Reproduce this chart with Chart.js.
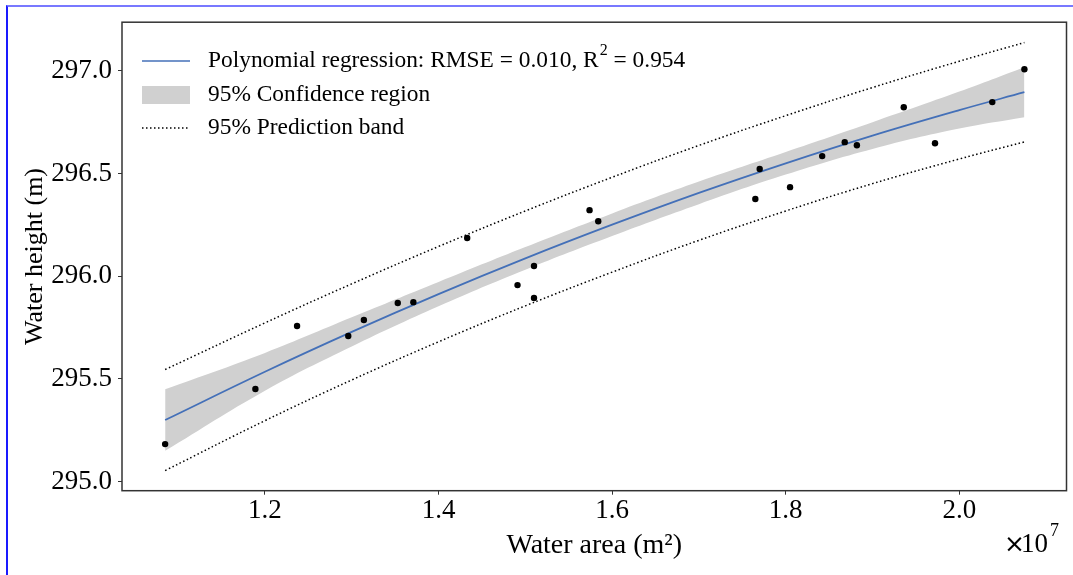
<!DOCTYPE html>
<html>
<head>
<meta charset="utf-8">
<script src="https://cdn.jsdelivr.net/npm/chart.js@4.4.1/dist/chart.umd.min.js"></script>
<style>
  html, body { margin: 0; padding: 0; background: #fff; }
  #wrap { position: relative; width: 1073px; height: 575px; overflow: hidden; }
  #frame { position: absolute; left: 6px; top: 5px; right: -4px; bottom: -4px;
           border-left: 2px solid #1a1aff; border-top: 2px solid #7878ff; pointer-events: none; }
</style>
</head>
<body>
<div id="wrap">
  <canvas id="chart" width="1073" height="575"></canvas>
  <div id="frame"></div>
</div>
<script>
// observations: water area (x 1e7 m2) and water height (m)
const areaObs = [1.085, 1.189, 1.237, 1.296, 1.314, 1.353, 1.371, 1.433, 1.491, 1.510, 1.510, 1.574,
                 1.584, 1.765, 1.770, 1.805, 1.842, 1.868, 1.882, 1.936, 1.972, 2.038, 2.075];
const heightObs = [295.183, 295.451, 295.758, 295.709, 295.787, 295.870, 295.874, 296.186, 295.957,
                   296.050, 295.894, 296.322, 296.268, 296.376, 296.522, 296.434, 296.585, 296.653,
                   296.638, 296.823, 296.648, 296.848, 297.008];

// fitted curve and bands
const fitArea   = [1.085, 1.2, 1.3, 1.4, 1.5, 1.6, 1.7, 1.8, 1.9, 2.0, 2.075];
const fitHeight = [295.300, 295.535, 295.729, 295.913, 296.087, 296.251, 296.406, 296.550, 296.685, 296.809, 296.896];
const ciHigh    = [295.450, 295.627, 295.800, 295.972, 296.142, 296.306, 296.461, 296.605, 296.750, 296.899, 297.018];
const ciLow     = [295.150, 295.443, 295.658, 295.854, 296.032, 296.196, 296.351, 296.495, 296.620, 296.719, 296.774];
const piHigh    = [295.546, 295.773, 295.963, 296.145, 296.318, 296.482, 296.637, 296.782, 296.919, 297.047, 297.138];
const piLow     = [295.054, 295.297, 295.495, 295.681, 295.856, 296.020, 296.175, 296.318, 296.451, 296.571, 296.654];

const xTicks = [1.2, 1.4, 1.6, 1.8, 2.0];
const yTicks = [295.0, 295.5, 296.0, 296.5, 297.0];

const legendLabels = ["Polynomial regression: RMSE = 0.010, R", "95% Confidence region", "95% Prediction band"];
const r2Text = " = 0.954";

const SERIF = '"Liberation Serif", "Times New Roman", serif';
const LINE_BLUE = "#4470b8";
const BAND_GRAY = "#d0d0d0";

const pts = (xs, ys) => xs.map((x, i) => ({ x: x, y: ys[i] }));

// box around the plot + legend + x10^7 offset text
const decorPlugin = {
    id: "decor",
    afterDraw(chart) {
        const { ctx, chartArea: a } = chart;
        ctx.save();
        ctx.strokeStyle = "#333";
        ctx.lineWidth = 1.5;
        ctx.strokeRect(a.left, a.top, a.right - a.left, a.bottom - a.top);

        // legend
        const rows = [61, 95, 128];
        ctx.lineWidth = 1.5;
        ctx.strokeStyle = LINE_BLUE;
        ctx.beginPath(); ctx.moveTo(142, rows[0]); ctx.lineTo(190, rows[0]); ctx.stroke();
        ctx.fillStyle = BAND_GRAY;
        ctx.fillRect(142, rows[1] - 9, 48, 18);
        ctx.strokeStyle = "#000";
        ctx.setLineDash([1.5, 2.5]);
        ctx.beginPath(); ctx.moveTo(142, rows[2]); ctx.lineTo(190, rows[2]); ctx.stroke();
        ctx.setLineDash([]);

        ctx.fillStyle = "#000";
        ctx.textBaseline = "middle";
        ctx.textAlign = "left";
        ctx.font = "23.4px " + SERIF;
        legendLabels.forEach((t, i) => ctx.fillText(t, 208, rows[i]));
        let w = ctx.measureText(legendLabels[0]).width;
        ctx.font = "16px " + SERIF;
        ctx.fillText("2", 208 + w + 1, rows[0] - 10);
        const w2 = ctx.measureText("2").width;
        ctx.font = "23.4px " + SERIF;
        ctx.fillText(r2Text, 208 + w + w2 + 1, rows[0]);

        // x10^7
        ctx.font = "25px DejaVu Sans";
        ctx.textBaseline = "alphabetic";
        ctx.fillText("\u00d7", 1004, 552);
        ctx.font = "27px " + SERIF;
        ctx.fillText("10", 1021, 552);
        ctx.font = "18px " + SERIF;
        ctx.fillText("7", 1050, 536);
        ctx.restore();
    }
};

new Chart(document.getElementById("chart"), {
    type: "line",
    data: {
        datasets: [
            { data: pts(fitArea, ciLow), borderWidth: 0, pointRadius: 0, fill: false, tension: 0.4, order: 4 },
            { data: pts(fitArea, ciHigh), borderWidth: 0, pointRadius: 0, fill: "-1",
              backgroundColor: BAND_GRAY, tension: 0.4, order: 3 },
            { data: pts(fitArea, piHigh), borderColor: "#000", borderWidth: 1.5, borderDash: [1.5, 2.5],
              pointRadius: 0, fill: false, tension: 0.4, order: 2 },
            { data: pts(fitArea, piLow), borderColor: "#000", borderWidth: 1.5, borderDash: [1.5, 2.5],
              pointRadius: 0, fill: false, tension: 0.4, order: 2 },
            { data: pts(fitArea, fitHeight), borderColor: LINE_BLUE, borderWidth: 1.8,
              pointRadius: 0, fill: false, tension: 0.4, order: 1 },
            { data: pts(areaObs, heightObs), showLine: false, pointRadius: 3.2, pointHoverRadius: 3.2,
              pointBackgroundColor: "#000", pointBorderWidth: 0, fill: false, order: 0 }
        ]
    },
    options: {
        responsive: false,
        animation: false,
        devicePixelRatio: 1,
        layout: { padding: { left: 0, right: 6.5, top: 22, bottom: 0 } },
        plugins: { legend: { display: false }, tooltip: { enabled: false } },
        scales: {
            x: {
                type: "linear",
                min: 1.0353, max: 2.1235,
                afterBuildTicks: s => { s.ticks = xTicks.map(v => ({ value: v })); },
                afterFit: s => { s.height = 84.3; },
                grid: { drawOnChartArea: false, drawTicks: true, tickLength: 4, tickColor: "#333" },
                border: { display: false },
                ticks: { color: "#000", padding: 0, maxRotation: 0, font: { family: SERIF, size: 27 },
                         callback: v => v.toFixed(1) },
                title: { display: true, text: "Water area (m\u00b2)", color: "#000",
                         font: { family: SERIF, size: 28 }, padding: { top: 0, bottom: 13 } }
            },
            y: {
                min: 294.956, max: 297.237,
                afterBuildTicks: s => { s.ticks = yTicks.map(v => ({ value: v })); },
                afterFit: s => { s.width = 122; },
                grid: { drawOnChartArea: false, drawTicks: true, tickLength: 4, tickColor: "#333" },
                border: { display: false },
                ticks: { color: "#000", padding: 6, font: { family: SERIF, size: 27 },
                         callback: v => v.toFixed(1) },
                title: { display: true, text: "Water height (m)", color: "#000",
                         font: { family: SERIF, size: 26 }, padding: { top: 20, bottom: 0 } }
            }
        }
    },
    plugins: [decorPlugin]
});
</script>
</body>
</html>
